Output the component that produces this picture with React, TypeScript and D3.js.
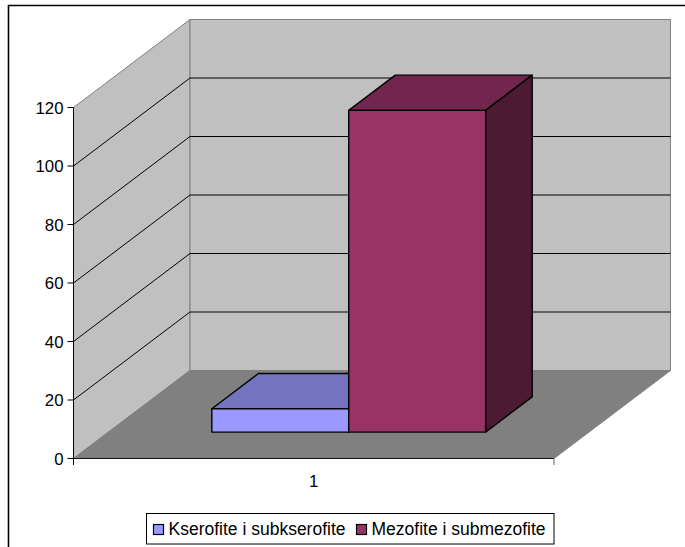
import React from "react";
import * as d3 from "d3";

const categories = ["1"];
const seriesNames = ["Kserofite i subkserofite", "Mezofite i submezofite"];
const seriesValues = [8, 110];
const seriesColors = ["#9999FF", "#993366"];
const topColors = ["#7373BF", "#73264D"];
const sideColors = ["#4D4D80", "#4D1A33"];
const yTicks = [0, 20, 40, 60, 80, 100, 120];

const W = 685, H = 547;
const x0 = 73.5, x1 = 554, y0 = 458.5, y1 = 107.5;
const depthX = 116.5, depthY = 88;
const font = "'Liberation Sans', Arial, sans-serif";

const yScale = d3.scaleLinear().domain([0, 120]).range([y0, y1]);
const xCat = d3.scaleBand<string>().domain(categories).range([x0, x1]);
const xBar = d3.scaleBand<string>().domain(seriesNames).range([x0, x1]).paddingInner(0).paddingOuter(0.755);
const depth = d3.scaleLinear().domain([0, 1]).range([0, 1]);

const pt = (x: number, value: number, d: number): [number, number] => [
  x + depth(d) * depthX,
  yScale(value) - depth(d) * depthY,
];
const poly = (pts: [number, number][]) => d3.line()(pts)! + "Z";

const barFront = 0.3, barBack = 0.7;

export default function App() {
  return (
    <svg width={W} height={H} style={{ position: "absolute", left: 0, top: 0, display: "block" }}>
      <rect x={0} y={0} width={W} height={H} fill="#fff" />
      <path d={`M8.5,${H + 2}V5.5H${W + 2}`} fill="none" stroke="#000" strokeWidth={1.6} />

      {/* walls */}
      <path d={poly([pt(x0, 0, 0), pt(x0, 120, 0), pt(x0, 120, 1), pt(x0, 0, 1)])} fill="#C0C0C0" stroke="#808080" />
      <path d={poly([pt(x0, 0, 1), pt(x0, 120, 1), pt(x1, 120, 1), pt(x1, 0, 1)])} fill="#C0C0C0" stroke="#808080" />
      <path d={poly([pt(x0, 0, 0), pt(x1, 0, 0), pt(x1, 0, 1), pt(x0, 0, 1)])} fill="#808080" stroke="#808080" />

      {/* gridlines */}
      {yTicks.filter((t) => t > 0 && t < 120).map((t) => (
        <path key={t} d={d3.line()([pt(x0, t, 0), pt(x0, t, 1), pt(x1, t, 1)])!} fill="none" stroke="#000" strokeWidth={1} />
      ))}

      {/* axes */}
      <line x1={x0} x2={x0} y1={y1} y2={y0 + 6.5} stroke="#000" />
      <line x1={x0} x2={x1} y1={y0} y2={y0} stroke="#111" />
      <line x1={x1} x2={x1} y1={y0} y2={y0 + 6.5} stroke="#666" />
      {yTicks.map((t) => (
        <g key={t}>
          <line x1={x0 - 6} x2={x0} y1={yScale(t)} y2={yScale(t)} stroke="#000" />
          <text x={x0 - 10} y={yScale(t) + 6} textAnchor="end" fontFamily={font} fontSize={16.8} fill="#000">{t}</text>
        </g>
      ))}
      {categories.map((c) => (
        <text key={c} x={xCat(c)! + xCat.bandwidth() / 2} y={487} textAnchor="middle" fontFamily={font} fontSize={16.8} fill="#000">{c}</text>
      ))}

      {/* bars */}
      {seriesNames.map((s, i) => {
        const l = xBar(s)!;
        const r = l + xBar.bandwidth();
        const v = seriesValues[i];
        return (
          <g key={s} stroke="#000" strokeWidth={1.4} strokeLinejoin="round">
            <path d={poly([pt(l, v, barFront), pt(r, v, barFront), pt(r, v, barBack), pt(l, v, barBack)])} fill={topColors[i]} />
            <path d={poly([pt(r, 0, barFront), pt(r, v, barFront), pt(r, v, barBack), pt(r, 0, barBack)])} fill={sideColors[i]} />
            <path d={poly([pt(l, 0, barFront), pt(r, 0, barFront), pt(r, v, barFront), pt(l, v, barFront)])} fill={seriesColors[i]} />
          </g>
        );
      })}

      {/* legend */}
      <rect x={146.5} y={513.5} width={407.5} height={30.5} fill="#fff" stroke="#000" strokeWidth={1} />
      {seriesNames.map((s, i) => {
        const sx = [153.5, 356.5][i];
        return (
          <g key={s}>
            <rect x={sx} y={524.5} width={10} height={10} fill={seriesColors[i]} stroke="#000" strokeWidth={1.2} />
            <text x={sx + 15} y={534.5} fontFamily={font} fontSize={17.5} fill="#000">{s}</text>
          </g>
        );
      })}
    </svg>
  );
}
